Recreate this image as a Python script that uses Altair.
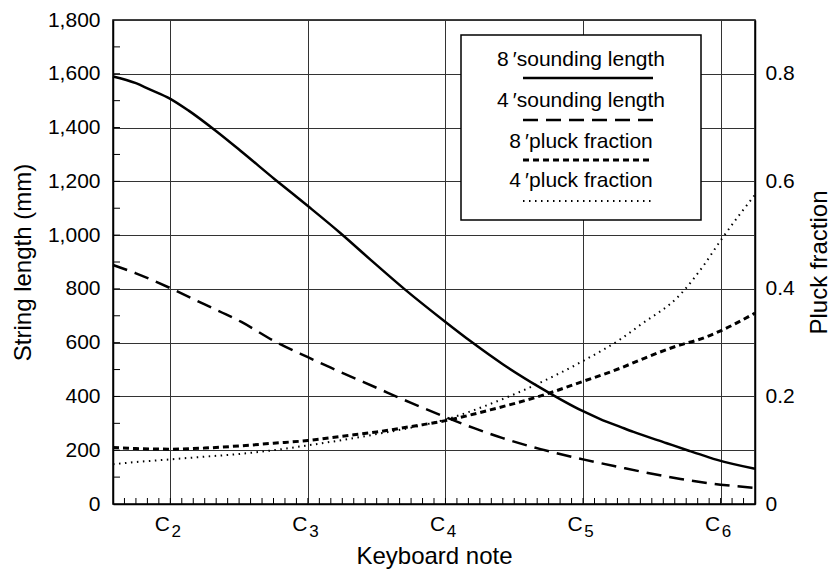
import altair as alt
import pandas as pd

FONT = "Liberation Sans"

# ---- data (x = keyboard note as semitone number, C4 = 60) ----
len8_note = [31, 33, 34.1, 36, 37.6, 39.9, 42.2, 45.1, 48, 50.85, 53.5, 56.4, 60, 62.2,
             65, 68.3, 72, 73.5, 75.3, 76.4, 79.3, 81.1, 82.8, 83.7, 87]
len8_mm = [1590, 1565, 1544, 1507, 1463, 1390, 1311, 1208, 1108, 1007, 907, 800, 677, 605,
           520, 432, 345, 316, 286, 268, 226, 200, 176, 164, 131]

len4_note = [31, 33, 36, 39, 42.2, 45.1, 48, 50, 54, 57, 59.6, 62.5, 65, 68.3, 72, 75.3,
             77, 80.5, 84, 87]
len4_mm = [889, 858, 803, 742, 677, 605, 546, 507, 432, 376, 330, 282, 245, 204, 166, 136,
           121, 93, 72, 60]

pl8_note = [31, 33, 36, 39, 42, 45, 48, 51, 54, 57, 60, 63.9, 68.3, 72, 75.3, 77, 80.5,
            82, 84, 87]
pl8_frac = [0.105, 0.103, 0.102, 0.104, 0.108, 0.113, 0.118, 0.126, 0.134, 0.144, 0.155,
            0.175, 0.201, 0.228, 0.253, 0.268, 0.296, 0.305, 0.322, 0.355]

pl4_note = [31, 33, 36, 39, 42, 45, 48, 51, 54, 57, 60, 63.9, 68.3, 72, 75.3, 77, 80.5,
            82.5, 84, 87]
pl4_frac = [0.074, 0.078, 0.083, 0.088, 0.093, 0.100, 0.109, 0.119, 0.130, 0.142, 0.157,
            0.186, 0.226, 0.266, 0.307, 0.333, 0.39, 0.443, 0.49, 0.575]

note_ticks = [36, 48, 60, 72, 84]
note_letter = ["C", "C", "C", "C", "C"]
note_octave = ["2", "3", "4", "5", "6"]
semitones = list(range(32, 87))
length_ticks = list(range(0, 1801, 200))
length_minor = list(range(100, 1800, 100))
pluck_ticks = [0, 0.2, 0.4, 0.6, 0.8]

legend_labels = ["8\u2009′sounding length", "4\u2009′sounding length",
                 "8\u2009′pluck fraction", "4\u2009′pluck fraction"]

# ---- layout ----
W, H = 642, 484
TICK_FS, TITLE_FS, LEG_FS = 21, 24, 21
xscale = alt.Scale(domain=[31, 87], nice=False, zero=False)
yL = alt.Scale(domain=[0, 1800], nice=False, zero=True)
yR = alt.Scale(domain=[0, 0.9], nice=False, zero=True)

x_axis = alt.Axis(
    values=note_ticks, labels=False, grid=True, gridColor="#333", gridWidth=1,
    ticks=False, domain=True, domainColor="black", domainWidth=1.5,
    title="Keyboard note", titleFont=FONT, titleFontSize=TITLE_FS, titleFontWeight="normal",
    titleColor="black", titlePadding=40,
)
yL_axis = alt.Axis(
    values=length_ticks, format=",d", grid=True, gridColor="#333", gridWidth=1,
    ticks=False, domain=True, domainColor="black", domainWidth=1.5,
    labelFont=FONT, labelFontSize=TICK_FS, labelColor="black", labelPadding=13,
    title="String length (mm)", titleFont=FONT, titleFontSize=TITLE_FS,
    titleFontWeight="normal", titleColor="black", titlePadding=12,
)
yR_axis = alt.Axis(
    orient="right", values=pluck_ticks, format=".1~f", grid=False, ticks=False,
    domain=True, domainColor="black", domainWidth=1.5,
    labelFont=FONT, labelFontSize=TICK_FS, labelColor="black", labelPadding=10,
    title="Pluck fraction", titleFont=FONT, titleFontSize=TITLE_FS, titleFontWeight="normal",
    titleColor="black", titlePadding=13, titleAngle=270, titleBaseline="top",
)

df_len8 = pd.DataFrame({"note": len8_note, "v": len8_mm})
df_len4 = pd.DataFrame({"note": len4_note, "v": len4_mm})
df_pl8 = pd.DataFrame({"note": pl8_note, "v": pl8_frac})
df_pl4 = pd.DataFrame({"note": pl4_note, "v": pl4_frac})
df_notes = pd.DataFrame({"note": note_ticks, "letter": note_letter, "octave": note_octave})

X = lambda: alt.X("note:Q", scale=xscale, axis=x_axis)

line8 = alt.Chart(df_len8).mark_line(color="black", strokeWidth=2.5, interpolate="monotone").encode(
    x=X(), y=alt.Y("v:Q", scale=yL, axis=yL_axis),
)
line4 = alt.Chart(df_len4).mark_line(color="black", strokeWidth=2.5, strokeDash=[15, 8],
                                     interpolate="monotone").encode(
    x=X(), y=alt.Y("v:Q", scale=yL, axis=yL_axis),
)
minor_y = alt.Chart(pd.DataFrame({"v": length_minor})).mark_rule(color="black", strokeWidth=1).encode(
    y=alt.Y("v:Q", scale=yL, axis=yL_axis),
    x=alt.value(0), x2=alt.value(7),
)
minor_x = alt.Chart(pd.DataFrame({"note": semitones})).mark_rule(color="black", strokeWidth=1).encode(
    x=X(), y=alt.value(H), y2=alt.value(H - 6),
)
# note names "C" with subscript octave numbers
c_letters = alt.Chart(df_notes).mark_text(
    font=FONT, fontSize=TICK_FS, color="black", align="center", baseline="top", dx=-8
).encode(x=X(), y=alt.value(H + 10), text="letter:N")
c_octaves = alt.Chart(df_notes).mark_text(
    font=FONT, fontSize=17, color="black", align="center", baseline="top", dx=6
).encode(x=X(), y=alt.value(H + 20), text="octave:N")

left_group = alt.layer(line8, line4, minor_y, minor_x, c_letters, c_octaves)

pl8 = alt.Chart(df_pl8).mark_line(color="black", strokeWidth=3, strokeDash=[6, 4],
                                  interpolate="monotone").encode(
    x=X(), y=alt.Y("v:Q", scale=yR, axis=yR_axis),
)
pl4 = alt.Chart(df_pl4).mark_line(color="black", strokeWidth=2, strokeDash=[1.5, 4.5],
                                  interpolate="monotone").encode(
    x=X(), y=alt.Y("v:Q", scale=yR, axis=yR_axis),
)
right_group = alt.layer(pl8, pl4)

# ---- hand-drawn legend box ----
LX0, LX1, LY0, LY1 = 348, 588, 15, 200
box = alt.Chart(pd.DataFrame({"k": [0]})).mark_rect(
    fill="white", stroke="black", strokeWidth=1.5
).encode(x=alt.value(LX0), x2=alt.value(LX1), y=alt.value(LY0), y2=alt.value(LY1))

text_y = [40, 81, 122, 161]
line_y = [58, 100, 140, 181]
styles = [dict(strokeWidth=2.5), dict(strokeWidth=2.5, strokeDash=[15, 8]),
          dict(strokeWidth=3, strokeDash=[6, 4]), dict(strokeWidth=2, strokeDash=[1.5, 4.5])]
legend_layers = [box]
for lab, ty, ly, st in zip(legend_labels, text_y, line_y, styles):
    legend_layers.append(
        alt.Chart(pd.DataFrame({"label": [lab]})).mark_text(
            font=FONT, fontSize=LEG_FS, color="black", align="center", baseline="middle"
        ).encode(text="label:N", x=alt.value(468), y=alt.value(ty))
    )
    legend_layers.append(
        alt.Chart(pd.DataFrame({"label": [lab]})).mark_rule(color="black", **st).encode(
            x=alt.value(410), x2=alt.value(540), y=alt.value(ly)
        )
    )

chart = alt.layer(left_group, right_group, *legend_layers).resolve_scale(
    y="independent"
).properties(
    width=W, height=H,
    autosize=alt.AutoSizeParams(type="none"),
    padding={"left": 113, "top": 20, "right": 78, "bottom": 67},
    background="white",
).configure_view(stroke="black", strokeWidth=1.5)

chart.save("out.html", embed_options={"renderer": "svg", "actions": False})
